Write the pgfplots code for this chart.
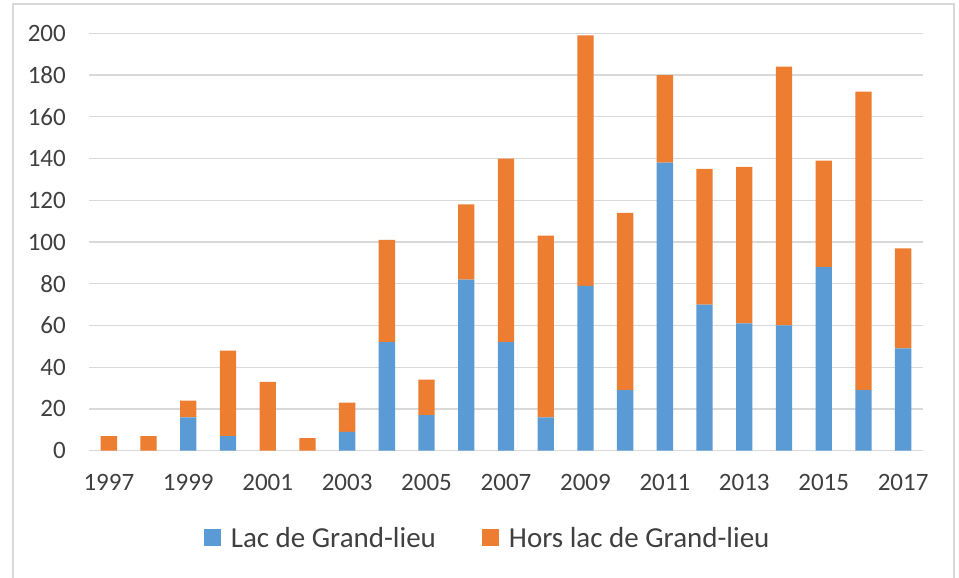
\documentclass[border=0pt]{standalone}
\usepackage{pgfplots}
\pgfplotsset{compat=1.18}
\usepackage{pgfplotstable}
\usepackage{fontspec}
\setmainfont{Carlito}
\definecolor{cblue}{HTML}{5B9BD5}
\definecolor{corange}{HTML}{ED7D31}
\definecolor{cgrid}{HTML}{D9D9D9}
\definecolor{ctext}{HTML}{404040}
\pgfplotstableread{
year lac hors
1997 0 7
1998 0 7
1999 16 8
2000 7 41
2001 0 33
2002 0 6
2003 9 14
2004 52 49
2005 17 17
2006 82 36
2007 52 88
2008 16 87
2009 79 120
2010 29 85
2011 138 42
2012 70 65
2013 61 75
2014 60 124
2015 88 51
2016 29 143
2017 49 48
}\data
\begin{document}
\begin{tikzpicture}[x=1pt,y=1pt]
\useasboundingbox (0,0) rectangle (959,578);
\draw[cgrid, line width=1.2pt] (13,-20) rectangle (954,574);
\begin{axis}[
  at={(89pt,127.3pt)}, anchor=south west,
  scale only axis, width=834pt, height=417.4pt,
  ybar stacked, bar width=16.3pt,
  xmin=1996.5, xmax=2017.5, ymin=0, ymax=200,
  xtick={1997,1999,...,2017}, ytick={0,20,...,200},
  /pgf/number format/.cd, 1000 sep={}, assume math mode=true,
  /pgfplots/.cd,
  ymajorgrids, grid style={cgrid, line width=1.4pt},
  axis line style={draw=none},
  major tick length=0pt,
  tick label style={font=\fontsize{25}{25}\selectfont, text=ctext},
  yticklabel style={anchor=east, inner sep=0pt, xshift=-23pt},
  xticklabel style={anchor=north, inner sep=0pt, yshift=-23pt},
  legend columns=2,
  legend style={draw=none, fill=none, at={(0.478,-0.209)}, anchor=center,
    font=\fontsize{29}{29}\selectfont, text=ctext,
    /tikz/every odd column/.append style={column sep=8pt},
    /tikz/every even column/.append style={column sep=44pt},
    inner sep=0pt},
  legend image code/.code={\fill[#1] (0pt,-8.5pt) rectangle (17pt,8.5pt);},
  legend cell align=left,
]
\addplot[fill=cblue, draw=none] table[x=year, y=lac] {\data};
\addplot[fill=corange, draw=none] table[x=year, y=hors] {\data};
\legend{Lac de Grand-lieu, Hors lac de Grand-lieu}
\end{axis}
\end{tikzpicture}
\end{document}
